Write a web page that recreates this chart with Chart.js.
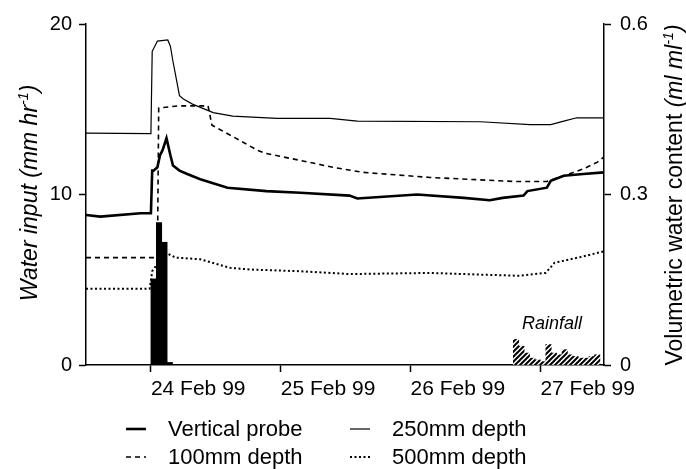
<!DOCTYPE html>
<html>
<head>
<meta charset="utf-8">
<script src="https://cdn.jsdelivr.net/npm/chart.js@4.4.1/dist/chart.umd.min.js"></script>
<style>
  html, body { margin: 0; padding: 0; background: #fff; }
  #wrap { position: relative; width: 686px; height: 469px; }
  .item { position: absolute; height: 26px; display: flex; align-items: center;
          font: 22px "Liberation Sans", Arial, sans-serif; color: #000; white-space: nowrap; }
  .item svg { margin-right: 22px; }
</style>
</head>
<body>
<div id="wrap">
  <canvas id="myChart" width="686" height="469"></canvas>
  <div id="legend"></div>
</div>
<script>
const FONT = '"Liberation Sans", Arial, sans-serif';

// time in days of Feb 1999, water content in ml/ml (right axis)
const vpTime = [23.5, 23.61, 23.92, 24.0, 24.01, 24.02, 24.05, 24.07, 24.09, 24.12, 24.15, 24.17, 24.22, 24.28, 24.38, 24.59, 24.89, 25.15, 25.53, 25.59, 26.05, 26.41, 26.61, 26.71, 26.87, 26.9, 27.05, 27.08, 27.18, 27.33, 27.49];
const vpValue = [0.264, 0.261, 0.267, 0.267, 0.342, 0.342, 0.348, 0.369, 0.378, 0.399, 0.369, 0.351, 0.342, 0.336, 0.327, 0.312, 0.306, 0.303, 0.298, 0.293, 0.300, 0.294, 0.290, 0.294, 0.298, 0.306, 0.312, 0.324, 0.333, 0.336, 0.339];

const d250Time = [23.5, 24.0, 24.01, 24.03, 24.05, 24.13, 24.15, 24.17, 24.2, 24.22, 24.25, 24.32, 24.48, 24.63, 24.97, 25.38, 25.59, 26.54, 26.92, 27.08, 27.18, 27.28, 27.49];
const d250Value = [0.408, 0.407, 0.552, 0.561, 0.570, 0.572, 0.561, 0.534, 0.498, 0.474, 0.468, 0.459, 0.444, 0.438, 0.434, 0.434, 0.429, 0.428, 0.423, 0.423, 0.429, 0.435, 0.435];

const d100Time = [23.5, 24.03, 24.05, 24.06, 24.09, 24.22, 24.38, 24.44, 24.47, 24.63, 24.82, 24.89, 25.15, 25.4, 25.63, 26.15, 26.79, 27.05, 27.18, 27.33, 27.44, 27.49];
const d100Value = [0.189, 0.189, 0.19, 0.452, 0.453, 0.456, 0.456, 0.456, 0.422, 0.402, 0.378, 0.372, 0.36, 0.348, 0.339, 0.33, 0.323, 0.323, 0.333, 0.345, 0.357, 0.366];

const d500Time = [23.5, 23.99, 24.01, 24.11, 24.19, 24.38, 24.61, 24.76, 25.15, 25.53, 26.15, 26.54, 26.84, 27.04, 27.11, 27.31, 27.49];
const d500Value = [0.134, 0.134, 0.165, 0.198, 0.189, 0.186, 0.171, 0.168, 0.165, 0.16, 0.162, 0.159, 0.157, 0.162, 0.18, 0.19, 0.2];

// hourly rainfall, hours after 24 Feb 00:00, mm/hr (left axis)
const rainHour = [0, 1, 2, 3, 67, 68, 69, 70, 71, 72, 73, 74, 75, 76, 77, 78, 79, 80, 81, 82];
const rainValue = [5.05, 8.35, 7.2, 0.15, 1.5, 1.1, 0.7, 0.4, 0.3, 0.2, 1.2, 0.7, 0.6, 0.9, 0.6, 0.5, 0.4, 0.4, 0.5, 0.6];

const dayTicks = [24, 25, 26, 27];
const leftTicks = [0, 10, 20];
const rightTicks = [0, 0.3, 0.6];

const pts = (xs, ys) => xs.map((x, i) => ({x: x, y: ys[i]}));

function hatch() {
  const c = document.createElement('canvas');
  c.width = 5; c.height = 5;
  const g = c.getContext('2d');
  g.fillStyle = '#fff';
  g.fillRect(0, 0, 5, 5);
  g.strokeStyle = '#000';
  g.lineWidth = 2;
  g.beginPath();
  g.moveTo(0, 5); g.lineTo(5, 0);
  g.moveTo(-1, 1); g.lineTo(1, -1);
  g.moveTo(4, 6); g.lineTo(6, 4);
  g.stroke();
  return g.createPattern(c, 'repeat');
}
const hatchFill = hatch();

function richWidth(c, parts, size) {
  let w = 0;
  parts.forEach(p => {
    const s = p.sup ? size * 0.62 : size;
    c.font = (p.italic ? 'italic ' : '') + s + 'px ' + FONT;
    w += c.measureText(p.text).width;
  });
  return w;
}

// rotated (bottom-to-top) title with superscript parts
function drawRich(c, parts, size, bx, cy) {
  const w = richWidth(c, parts, size);
  c.save();
  c.translate(bx, cy);
  c.rotate(-Math.PI / 2);
  c.fillStyle = '#000';
  c.textBaseline = 'alphabetic';
  c.textAlign = 'left';
  let x = -w / 2;
  parts.forEach(p => {
    const s = p.sup ? size * 0.62 : size;
    c.font = (p.italic ? 'italic ' : '') + s + 'px ' + FONT;
    c.fillText(p.text, x, p.sup ? -size * 0.38 : 0);
    x += c.measureText(p.text).width;
  });
  c.restore();
}

const axisTitles = {
  id: 'axisTitles',
  afterDraw(chart) {
    const c = chart.ctx;
    drawRich(c, [
      {text: 'Water input (mm hr', italic: true},
      {text: '-1', italic: true, sup: true},
      {text: ')', italic: true}
    ], 23, 37, 193);
    drawRich(c, [
      {text: 'Volumetric water content ', italic: false},
      {text: '(ml ml', italic: true},
      {text: '-1', italic: true, sup: true},
      {text: ')', italic: true}
    ], 23, 682, 195);

    const xs = chart.scales.x, ys = chart.scales.y;
    c.save();
    c.font = 'italic 18px ' + FONT;
    c.fillStyle = '#000';
    c.textAlign = 'center';
    c.textBaseline = 'middle';
    c.fillText('Rainfall', xs.getPixelForValue(27.09), ys.getPixelForValue(2.4));
    c.restore();
  }
};

const ctx = document.getElementById('myChart').getContext('2d');

const chartData = {
  datasets: [
    {
      type: 'line', label: 'Vertical probe', data: pts(vpTime, vpValue), yAxisID: 'y1',
      borderColor: '#000', borderWidth: 2.6, pointRadius: 0, tension: 0, fill: false
    },
    {
      type: 'line', label: '250mm depth', data: pts(d250Time, d250Value), yAxisID: 'y1',
      borderColor: '#000', borderWidth: 1.2, pointRadius: 0, tension: 0, fill: false
    },
    {
      type: 'line', label: '100mm depth', data: pts(d100Time, d100Value), yAxisID: 'y1',
      borderColor: '#000', borderWidth: 1.6, borderDash: [5, 4], pointRadius: 0, tension: 0, fill: false
    },
    {
      type: 'line', label: '500mm depth', data: pts(d500Time, d500Value), yAxisID: 'y1',
      borderColor: '#000', borderWidth: 2, borderDash: [2, 2.5], pointRadius: 0, tension: 0, fill: false
    },
    {
      type: 'bar', label: 'Rainfall',
      data: rainHour.map((h, i) => ({x: 24 + (h + 0.5) / 24, y: rainValue[i]})),
      yAxisID: 'y',
      backgroundColor: c => (c.raw && c.raw.x > 26 ? hatchFill : '#000'),
      borderWidth: 0, barPercentage: 1, categoryPercentage: 1, grouped: false
    }
  ]
};

const axisGrid = {
  display: true, drawOnChartArea: false, drawTicks: true,
  tickLength: 7, tickWidth: 1.5, tickColor: '#000', offset: false
};
const axisBorder = {display: true, color: '#000', width: 1.5};

const chartOptions = {
  responsive: false,
  animation: false,
  devicePixelRatio: 1,
  layout: {padding: {left: 0, right: 0, top: 24, bottom: 64}},
  plugins: {
    legend: {display: false},
    tooltip: {enabled: false}
  },
  scales: {
    x: {
      type: 'linear', min: 23.5, max: 27.49, offset: false,
      afterBuildTicks: s => { s.ticks = dayTicks.map(v => ({value: v})); },
      afterFit: s => { s.height = 40; },
      ticks: {
        align: 'start', maxRotation: 0, minRotation: 0, autoSkip: false, padding: 5,
        color: '#000', font: {family: FONT, size: 21},
        callback: v => v + ' Feb 99'
      },
      grid: axisGrid,
      border: axisBorder
    },
    y: {
      position: 'left', min: 0, max: 20,
      afterBuildTicks: s => { s.ticks = leftTicks.map(v => ({value: v})); },
      afterFit: s => { s.width = 86; },
      ticks: {padding: 7, color: '#000', font: {family: FONT, size: 20}},
      grid: axisGrid,
      border: axisBorder
    },
    y1: {
      position: 'right', min: 0, max: 0.6,
      afterBuildTicks: s => { s.ticks = rightTicks.map(v => ({value: v})); },
      afterFit: s => { s.width = 82; },
      ticks: {
        padding: 9, color: '#000', font: {family: FONT, size: 20},
        callback: v => (v === 0 ? '0' : v.toFixed(1))
      },
      grid: axisGrid,
      border: axisBorder
    }
  }
};

const myChart = new Chart(ctx, {type: 'line', data: chartData, options: chartOptions, plugins: [axisTitles]});

// html legend in two columns
const legendPos = [[126, 416], [350, 416], [126, 444], [350, 444]];
const legendEl = document.getElementById('legend');
chartData.datasets.filter(d => d.type === 'line').forEach((d, i) => {
  const item = document.createElement('div');
  item.className = 'item';
  item.style.left = legendPos[i][0] + 'px';
  item.style.top = legendPos[i][1] + 'px';
  const dash = d.borderDash ? d.borderDash.join(',') : 'none';
  item.innerHTML = '<svg width="20" height="8"><line x1="0" y1="4" x2="20" y2="4" stroke="#000" stroke-width="' +
    d.borderWidth + '" stroke-dasharray="' + dash + '"/></svg><span>' + d.label + '</span>';
  legendEl.appendChild(item);
});
</script>
</body>
</html>
